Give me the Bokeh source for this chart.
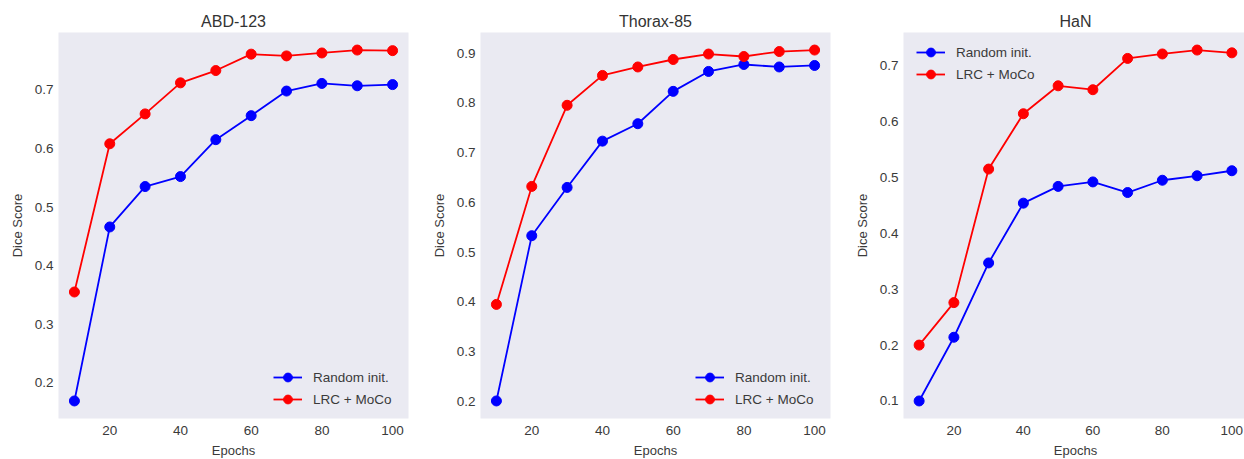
from bokeh.plotting import figure
from bokeh.layouts import row
from bokeh.models import Range1d, FixedTicker, Legend, LegendItem
from bokeh.embed import file_html
from bokeh.resources import INLINE

epochs = [10, 20, 30, 40, 50, 60, 70, 80, 90, 100]
abd_random = [0.169, 0.466, 0.535, 0.552, 0.615, 0.656, 0.698, 0.711, 0.707, 0.709]
abd_lrc = [0.355, 0.608, 0.659, 0.712, 0.733, 0.761, 0.758, 0.763, 0.768, 0.767]
thorax_random = [0.201, 0.533, 0.630, 0.723, 0.758, 0.823, 0.863, 0.877, 0.872, 0.875]
thorax_lrc = [0.395, 0.632, 0.795, 0.855, 0.872, 0.887, 0.898, 0.893, 0.903, 0.906]
han_random = [0.100, 0.214, 0.347, 0.454, 0.484, 0.492, 0.473, 0.495, 0.503, 0.512]
han_lrc = [0.200, 0.276, 0.515, 0.614, 0.664, 0.657, 0.713, 0.721, 0.728, 0.723]

titles = ["ABD-123", "Thorax-85", "HaN"]
series_labels = ["Random init.", "LRC + MoCo"]
x_ticks = [20, 40, 60, 80, 100]
y_ticks_abd = [0.2, 0.3, 0.4, 0.5, 0.6, 0.7]
y_ticks_thorax = [0.2, 0.3, 0.4, 0.5, 0.6, 0.7, 0.8, 0.9]
y_ticks_han = [0.1, 0.2, 0.3, 0.4, 0.5, 0.6, 0.7]
x_label = "Epochs"
y_label = "Dice Score"

FONT = "Liberation Sans"
TXT = "#3a3a3a"
BG = "#EAEAF2"
BLUE = "#0000FF"
RED = "#FF0000"
FRAME_H = 386


def pad_range(vals_a, vals_b, frac=0.05):
    lo = min(min(vals_a), min(vals_b))
    hi = max(max(vals_a), max(vals_b))
    d = (hi - lo) * frac
    return lo - d, hi + d


def make_panel(title, rnd, lrc, yticks, frame_w, border_l, border_r, legend_loc):
    xlo, xhi = pad_range(epochs, epochs)
    ylo, yhi = pad_range(rnd, lrc)
    p = figure(
        frame_width=frame_w, frame_height=FRAME_H,
        x_range=Range1d(xlo, xhi), y_range=Range1d(ylo, yhi),
        output_backend="svg", toolbar_location=None,
        min_border_left=border_l, min_border_right=border_r,
        min_border_top=32, min_border_bottom=41,
        background_fill_color=BG, border_fill_color="white",
    )
    p.outline_line_color = None
    p.grid.visible = False
    p.title.text = title
    p.title.align = "center"
    p.title.text_font = FONT
    p.title.text_font_size = "16px"
    p.title.text_font_style = "normal"
    p.title.text_color = "#333333"
    p.title.standoff = 5

    p.xaxis.ticker = FixedTicker(ticks=x_ticks)
    p.yaxis.ticker = FixedTicker(ticks=yticks)
    p.xaxis.axis_label = x_label
    p.yaxis.axis_label = y_label
    for ax in (p.xaxis[0], p.yaxis[0]):
        ax.axis_line_color = None
        ax.major_tick_line_color = None
        ax.minor_tick_line_color = None
        ax.major_tick_out = 0
        ax.major_tick_in = 0
        ax.minor_tick_out = 0
        ax.major_label_text_font = FONT
        ax.major_label_text_font_size = "13.5px"
        ax.major_label_text_color = TXT
        ax.axis_label_text_font = FONT
        ax.axis_label_text_font_size = "13px"
        ax.axis_label_text_font_style = "normal"
        ax.axis_label_text_color = TXT
    p.xaxis.major_label_standoff = 7
    p.xaxis.axis_label_standoff = 5
    p.yaxis.major_label_standoff = 5
    p.yaxis.axis_label_standoff = 7

    items = []
    for vals, col, lab in ((rnd, BLUE, series_labels[0]), (lrc, RED, series_labels[1])):
        ln = p.line(epochs, vals, line_color=col, line_width=1.8)
        sc = p.scatter(epochs, vals, size=10, fill_color=col, line_color=col)
        items.append(LegendItem(label=lab, renderers=[ln, sc]))

    lg = Legend(items=items, location=legend_loc)
    lg.background_fill_alpha = 0
    lg.border_line_color = None
    lg.padding = 0
    lg.margin = 0
    lg.spacing = 0
    lg.glyph_width = 29
    lg.glyph_height = 22
    lg.label_height = 22
    lg.label_standoff = 11
    lg.label_text_font = FONT
    lg.label_text_font_size = "13.5px"
    lg.label_text_color = TXT
    p.add_layout(lg, "center")
    return p


p1 = make_panel(titles[0], abd_random, abd_lrc, y_ticks_abd, 350, 58, 20, (215, 8))
p2 = make_panel(titles[1], thorax_random, thorax_lrc, y_ticks_thorax, 350, 50, 21, (215, 8))
p3 = make_panel(titles[2], han_random, han_lrc, y_ticks_han, 344, 50, 1, (13, FRAME_H - 9 - 44))

layout = row(p1, p2, p3)
open("out.html", "w").write(file_html(layout, INLINE))
